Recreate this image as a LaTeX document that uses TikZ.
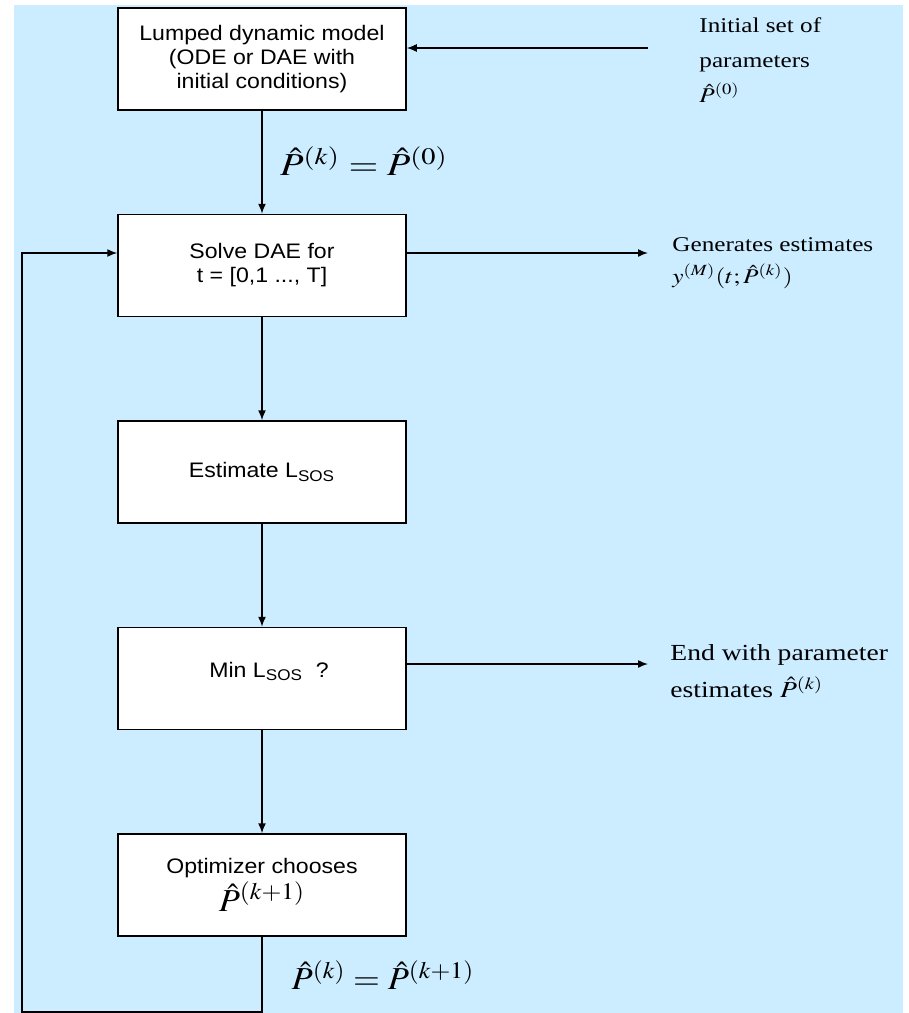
\documentclass[tikz,border=0pt]{standalone}
\usepackage{mathptmx}
\usepackage[no-math]{fontspec}
\setmainfont{Liberation Serif}[FakeStretch=1.2]
\setsansfont{Liberation Sans}[FakeStretch=1.1]
\usepackage{graphicx}
\usetikzlibrary{positioning}
\usetikzlibrary{arrows.meta}
\usepackage{xcolor}
\definecolor{bgblue}{RGB}{204,236,255}
\newcommand{\xs}[1]{\scalebox{1.2}[1]{#1}}
\newcommand{\xt}[1]{\scalebox{1.08}[1]{#1}}
\tikzset{
  flowbox/.style={draw, fill=white, line width=.75pt, minimum width=144pt, minimum height=51pt,
    align=center, inner sep=0pt, font=\sffamily\fontsize{10.5}{12}\selectfont},
  side/.style={align=left, anchor=north west, inner sep=0pt},
  flow/.style={line width=.75pt},
  big/.style={inner sep=0pt, font=\fontsize{16}{18}\selectfont}
}

\begin{document}
\begin{tikzpicture}[x=.5pt,y=-.5pt,>={Latex[length=5pt,width=4pt]},node distance=51.5pt]
\useasboundingbox (0,0) rectangle (909,1013);
\fill[bgblue] (14,5) rectangle (903,1013);
\node[flowbox] (lump) at (262,59) {Lumped dynamic model\\(ODE or DAE with\\initial conditions)};
\node[flowbox, below=of lump] (solve) {Solve DAE for\\t = [0,1 ..., T]};
\node[flowbox, below=of solve] (est) {Estimate L\textsubscript{SOS}};
\node[flowbox, below=of est] (minl) {\hspace*{7pt}\raisebox{9pt}{Min L\textsubscript{SOS}\ \ ?}};
\node[flowbox, below=of minl] (opt) {Optimizer chooses\\[1pt] \fontsize{16}{18}\selectfont\xt{$\hat P^{(k+1)}$}};
\node[side, font=\fontsize{10.5}{17.5}\selectfont] (init) at (699,17) {Initial set of\\parameters\\\xs{$\hat P^{(0)}$}};
\node[side, font=\fontsize{10.5}{16}\selectfont] (gen) at (672,237) {Generates estimates\\\xs{$y^{(M)}(t;\hat P^{(k)})$}};
\node[side, font=\fontsize{11.5}{18.5}\selectfont] (fin) at (670,644) {End with parameter\\estimates \xs{$\hat P^{(k)}$}};
\node[big] (p0) at (364,161) {\xs{$\hat P^{(k)} = \hat P^{(0)}$}};
\node[big] (p1) at (383,975) {\xt{$\hat P^{(k)} = \hat P^{(k+1)}$}};
\coordinate (src) at (648,48);
\coordinate (gen0) at (648,253);
\coordinate (fin0) at (648,664);
\coordinate (back) at (22,1012);
\draw[flow,->] (src) -- (src -| lump.east);
\draw[flow,->] (lump) -- (solve);
\draw[flow,->] (gen0 -| solve.east) -- (gen0);
\draw[flow,->] (solve) -- (est);
\draw[flow,->] (est) -- (minl);
\draw[flow,->] (fin0 -| minl.east) -- (fin0);
\draw[flow,->] (minl) -- (opt);
\draw[flow,->] (opt.south) -- (opt.south |- back) -- (back) -- (back |- gen0) -- (gen0 -| solve.west);
\end{tikzpicture}
\end{document}
